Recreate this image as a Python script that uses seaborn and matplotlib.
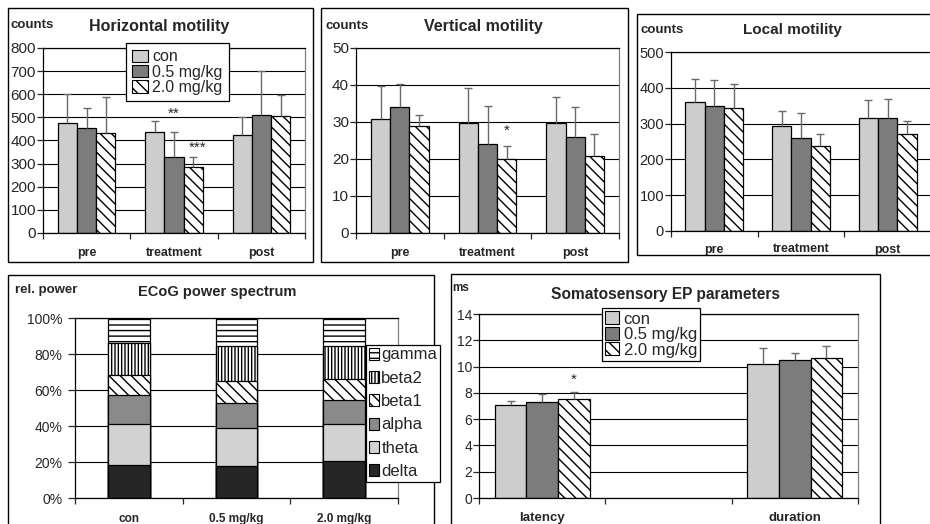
import numpy as np
import pandas as pd
import matplotlib
matplotlib.use('Agg')
import matplotlib.pyplot as plt
from matplotlib.patches import Patch, Rectangle
from matplotlib.ticker import MultipleLocator, PercentFormatter
import seaborn as sns

W, H = 930, 524

groups = ['con', '0.5 mg/kg', '2.0 mg/kg']
phases = ['pre', 'treatment', 'post']

# rows = phases, cols = groups
horiz_mean = [[477, 453, 431], [438, 330, 287], [424, 510, 506]]
horiz_top = [[600, 542, 589], [486, 435, 330], [503, 702, 596]]
vert_mean = [[30.8, 34.1, 29.0], [29.7, 24.1, 20.0], [29.7, 25.9, 20.9]]
vert_top = [[39.8, 40.4, 31.8], [39.2, 34.2, 23.4], [36.8, 34.0, 26.8]]
local_mean = [[359, 350, 343], [292, 261, 237], [317, 317, 270]]
local_top = [[424, 421, 410], [336, 329, 270], [366, 370, 306]]

# ECoG bands, one value per group (percent)
bands = ['delta', 'theta', 'alpha', 'beta1', 'beta2', 'gamma']
delta = [18.5, 17.7, 20.7]
theta = [22.5, 21.0, 20.3]
alpha = [16.0, 13.9, 13.2]
beta1 = [11.5, 12.2, 12.0]
beta2 = [17.5, 19.7, 18.3]
gamma = [14.0, 15.5, 15.5]

sep_params = ['latency', 'duration']
sep_mean = [[7.08, 7.30, 7.52], [10.23, 10.48, 10.66]]
sep_top = [[7.39, 7.92, 8.03], [11.39, 11.01, 11.60]]

sns.set_style('white')
plt.rcParams['font.family'] = ['Liberation Sans', 'DejaVu Sans']
plt.rcParams['hatch.linewidth'] = 1.0

group_style = {
    'con': dict(facecolor='#cdcdcd', hatch=None),
    '0.5 mg/kg': dict(facecolor='#7c7c7c', hatch=None),
    '2.0 mg/kg': dict(facecolor='white', hatch='\\\\\\'),
}
band_style = {
    'delta': dict(facecolor='#262626', hatch=None),
    'theta': dict(facecolor='#d2d2d2', hatch=None),
    'alpha': dict(facecolor='#8a8a8a', hatch=None),
    'beta1': dict(facecolor='white', hatch='\\\\\\'),
    'beta2': dict(facecolor='white', hatch='|||||'),
    'gamma': dict(facecolor='white', hatch='---'),
}


def box(l, t, r, b):
    return [l / W, 1 - b / H, (r - l) / W, (b - t) / H]


def frame(fig, l, t, r, b):
    fig.add_artist(Rectangle((l / W, 1 - b / H), (r - l) / W, (b - t) / H,
                             transform=fig.transFigure, fill=False,
                             edgecolor='black', lw=1.0))


def ftext(fig, x, y, s, size, ha='left'):
    fig.text(x / W, 1 - y / H, s, fontsize=size, fontweight='bold',
             ha=ha, va='center')


def style_axes(ax, ymax, step, ncat, tick_size, xlab_size, xpad, ylen=4, ypad=1):
    ax.set_ylim(0, ymax)
    ax.set_xlim(-0.5, ncat - 0.5)
    ax.yaxis.set_major_locator(MultipleLocator(step))
    ax.grid(axis='y', color='black', lw=0.8)
    ax.set_axisbelow(True)
    for s in ['left', 'bottom', 'top']:
        ax.spines[s].set_color('black')
        ax.spines[s].set_linewidth(0.9)
    ax.spines['right'].set_color('#808080')
    ax.spines['right'].set_linewidth(0.9)
    ax.set_xticks(np.arange(-0.5, ncat), minor=True)
    ax.tick_params(axis='x', which='minor', length=4, direction='out', width=0.9, bottom=True)
    ax.tick_params(axis='x', which='major', length=0, pad=xpad, labelsize=xlab_size)
    ax.tick_params(axis='y', length=ylen, direction='out', width=0.9, pad=ypad,
                   labelsize=tick_size, left=True)
    for lab in ax.get_xticklabels():
        lab.set_fontweight('bold')
    ax.set_xlabel('')
    ax.set_ylabel('')


def group_bars(ax, cats, means, tops, width, order=None):
    rows = []
    for i, c in enumerate(cats):
        for j, g in enumerate(groups):
            rows.append({'cat': c, 'group': g, 'value': means[i][j], 'top': tops[i][j]})
    df = pd.DataFrame(rows)
    sns.barplot(data=df, x='cat', y='value', hue='group', hue_order=groups,
                order=order if order else cats, width=width, errorbar=None,
                edgecolor='black', linewidth=0.9, legend=False, ax=ax)
    for j, cont in enumerate(ax.containers):
        g = groups[j]
        sub = df[df['group'] == g]
        xs, ys = [], []
        for patch in cont.patches:
            patch.set_facecolor(group_style[g]['facecolor'])
            patch.set_hatch(group_style[g]['hatch'])
            xs.append(patch.get_x() + patch.get_width() / 2)
            ys.append(patch.get_height())
        tops_g = sub['top'].values
        ax.vlines(xs, ys, tops_g, color='#6a6a6a', lw=1.0, zorder=3)
        ax.plot(xs, tops_g, ls='none', marker='_', ms=6, mew=1.0, color='#6a6a6a', zorder=3)
    return df


def bar_x(ax, gi, ci):
    p = ax.containers[gi].patches[ci]
    return p.get_x() + p.get_width() / 2


def group_handles():
    return [Patch(edgecolor='black', lw=0.8, **group_style[g]) for g in groups]


def add_legend(fig, handles, labels, x, y, size, **kw):
    opts = dict(loc='upper left', bbox_to_anchor=(x / W, 1 - y / H),
                bbox_transform=fig.transFigure, borderaxespad=0, fontsize=size,
                frameon=True, fancybox=False, edgecolor='black', framealpha=1,
                handlelength=0.8, handleheight=0.8, handletextpad=0.3)
    opts.update(kw)
    leg = fig.legend(handles, labels, **opts)
    leg.get_frame().set_linewidth(0.9)
    return leg


fig = plt.figure(figsize=(W / 100, H / 100), dpi=100)

# Horizontal motility
frame(fig, 8, 8, 313, 262)
ax1 = fig.add_axes(box(43, 48, 305, 233))
group_bars(ax1, phases, horiz_mean, horiz_top, 0.66)
style_axes(ax1, 800, 100, 3, 11, 9, 10)
ax1.text(bar_x(ax1, 1, 1), 517, '**', ha='center', va='center', fontsize=11)
ax1.text(bar_x(ax1, 2, 1) + 0.05, 368, '***', ha='center', va='center', fontsize=11)
ftext(fig, 10, 25, 'counts', 9.5)
ftext(fig, 159, 26, 'Horizontal motility', 11.5, ha='center')
add_legend(fig, group_handles(), groups, 126, 43, 11.5,
           labelspacing=0.02, borderpad=0.4, handletextpad=0.25, handlelength=1.0)

# Vertical motility
frame(fig, 321, 8, 628, 262)
ax2 = fig.add_axes(box(356, 48, 619, 233))
group_bars(ax2, phases, vert_mean, vert_top, 0.66)
style_axes(ax2, 50, 10, 3, 11, 9, 10)
ax2.text(bar_x(ax2, 2, 1), 27.6, '*', ha='center', va='center', fontsize=11)
ftext(fig, 325, 26, 'counts', 9.5)
ftext(fig, 483, 26, 'Vertical motility', 11.5, ha='center')

# Local motility
frame(fig, 637, 14, 940, 255)
ax3 = fig.add_axes(box(671, 52, 931, 231))
group_bars(ax3, phases, local_mean, local_top, 0.67)
style_axes(ax3, 500, 100, 3, 10.5, 9, 9)
ftext(fig, 640, 30, 'counts', 9.5)
ftext(fig, 792, 30, 'Local motility', 11, ha='center')

# ECoG power spectrum (stacked, drawn from top layer down)
frame(fig, 8, 275, 434, 540)
ax4 = fig.add_axes(box(75, 318, 398, 498))
band_vals = [delta, theta, alpha, beta1, beta2, gamma]
cum = np.cumsum(np.array(band_vals), axis=0)
for k in range(len(bands) - 1, -1, -1):
    st = band_style[bands[k]]
    sns.barplot(x=groups, y=cum[k], color=st['facecolor'], hatch=st['hatch'],
                width=0.39, edgecolor='black', linewidth=0.9, errorbar=None, ax=ax4)
style_axes(ax4, 100, 20, 3, 10, 8.5, 11, ylen=5, ypad=4)
ax4.yaxis.set_major_formatter(PercentFormatter(decimals=0))
ftext(fig, 15, 290, 'rel. power', 9.5)
ftext(fig, 217, 292, 'ECoG power spectrum', 10.5, ha='center')
band_handles = [Patch(edgecolor='black', lw=0.8, **band_style[b]) for b in bands[::-1]]
add_legend(fig, band_handles, bands[::-1], 366, 345, 12,
           labelspacing=0.5, borderpad=0.15, handletextpad=0.12, handlelength=0.65,
           handleheight=0.7)

# Somatosensory EP parameters (empty middle slot as in the original)
frame(fig, 451, 274, 880, 540)
ax5 = fig.add_axes(box(479, 314, 858, 498))
group_bars(ax5, sep_params, sep_mean, sep_top, 0.75, order=['latency', ' ', 'duration'])
style_axes(ax5, 14, 2, 3, 10, 9.5, 10)
ax5.text(bar_x(ax5, 2, 0), 9.0, '*', ha='center', va='center', fontsize=11)
ftext(fig, 452, 288, 'ms', 8.5)
ftext(fig, 665, 294, 'Somatosensory EP parameters', 11.2, ha='center')
add_legend(fig, group_handles(), groups, 602, 308, 12,
           labelspacing=0.02, borderpad=0.2)

fig.savefig('out.png', dpi=100)
